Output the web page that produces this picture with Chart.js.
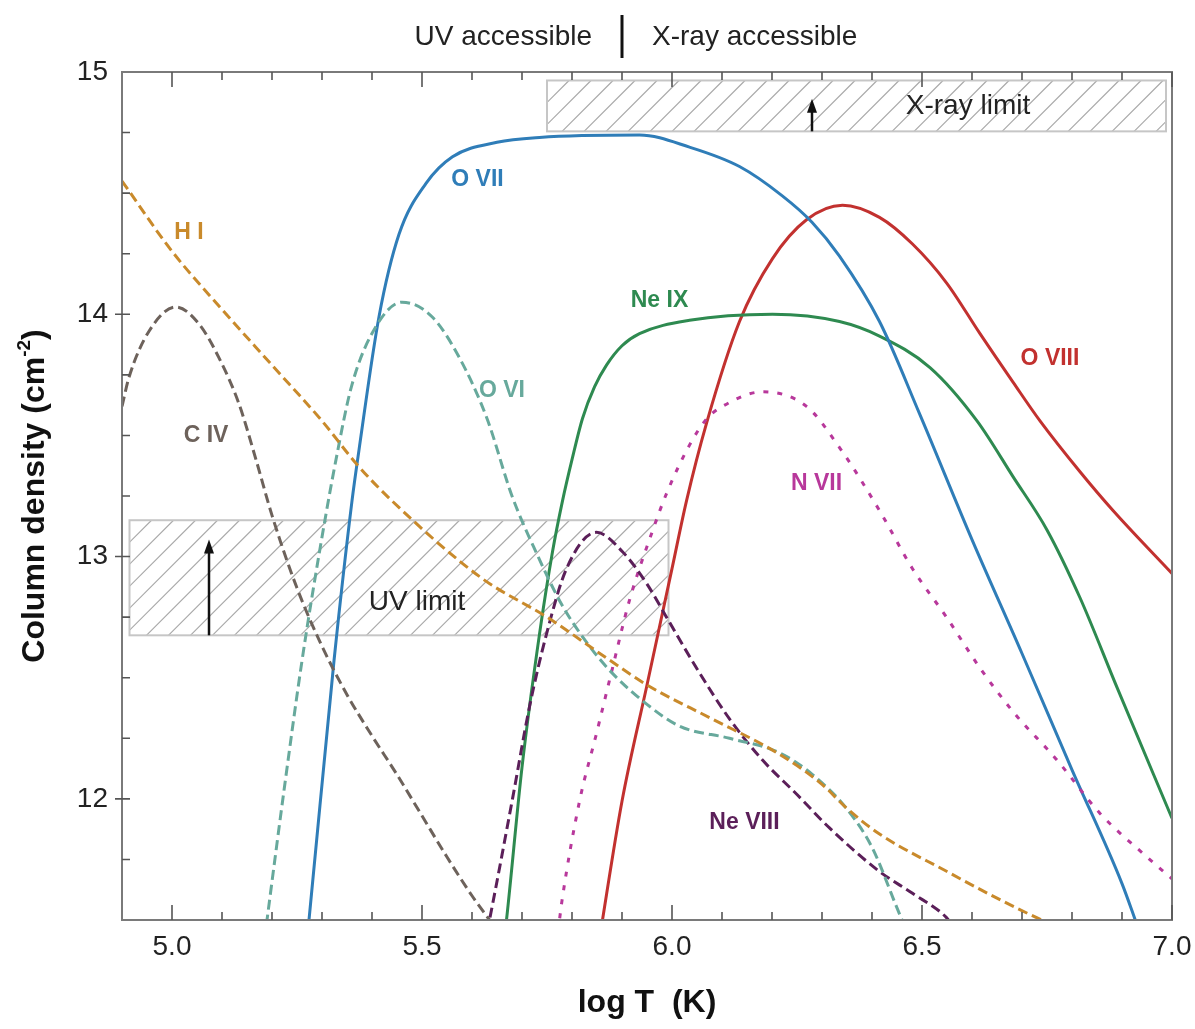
<!DOCTYPE html>
<html>
<head>
<meta charset="utf-8">
<title>Column density vs temperature</title>
<script src="https://cdn.jsdelivr.net/npm/chart.js@4.4.1/dist/chart.umd.min.js"></script>
<style>
  html, body { margin: 0; padding: 0; background: #fff; }
  canvas { display: block; }
</style>
</head>
<body>
<canvas id="chart" width="1195" height="1029"></canvas>
<script>
const FONT = '"Liberation Sans", Arial, Helvetica, sans-serif';

// log T (K) and log column density
const HI_T = [4.90, 5.00, 5.10, 5.20, 5.30, 5.37, 5.44, 5.62, 5.75, 5.87, 5.95, 6.08, 6.21, 6.30, 6.35, 6.415, 6.55, 6.65, 6.74, 6.80];
const HI_N = [14.55, 14.26, 14.02, 13.79, 13.56, 13.38, 13.23, 12.91, 12.75, 12.58, 12.47, 12.33, 12.19, 12.06, 11.96, 11.855, 11.70, 11.59, 11.50, 11.45];

const CIV_T = [4.90, 4.914, 4.954, 5.008, 5.054, 5.094, 5.134, 5.168, 5.20, 5.25, 5.30, 5.35, 5.40, 5.45, 5.50, 5.55, 5.60, 5.635, 5.66];
const CIV_N = [13.62, 13.74, 13.93, 14.03, 13.96, 13.82, 13.63, 13.40, 13.17, 12.87, 12.63, 12.43, 12.26, 12.10, 11.93, 11.76, 11.60, 11.50, 11.43];

const OVI_T = [5.185, 5.19, 5.225, 5.26, 5.295, 5.328, 5.36, 5.408, 5.46, 5.52, 5.575, 5.63, 5.68, 5.73, 5.78, 5.835, 5.88, 5.95, 6.015, 6.115, 6.215, 6.281, 6.349, 6.40, 6.45, 6.47];
const OVI_N = [11.42, 11.50, 12.05, 12.57, 13.02, 13.40, 13.71, 13.95, 14.05, 13.99, 13.82, 13.57, 13.25, 13.01, 12.80, 12.63, 12.52, 12.39, 12.30, 12.25, 12.19, 12.10, 11.96, 11.80, 11.55, 11.45];

const OVII_T = [5.27, 5.274, 5.324, 5.36, 5.374, 5.414, 5.454, 5.508, 5.561, 5.65, 5.735, 5.935, 6.035, 6.135, 6.22, 6.28, 6.335, 6.415, 6.495, 6.60, 6.70, 6.80, 6.90, 6.93];
const OVII_N = [11.42, 11.50, 12.57, 13.23, 13.44, 13.99, 14.33, 14.54, 14.65, 14.71, 14.73, 14.74, 14.69, 14.61, 14.49, 14.38, 14.24, 13.97, 13.59, 13.07, 12.60, 12.12, 11.65, 11.48];

const NEIX_T = [5.662, 5.669, 5.70, 5.735, 5.761, 5.781, 5.80, 5.821, 5.845, 5.869, 5.90, 5.935, 6.035, 6.201, 6.335, 6.415, 6.516, 6.61, 6.682, 6.75, 6.816, 6.89, 7.00];
const NEIX_N = [11.38, 11.50, 12.13, 12.68, 13.02, 13.23, 13.40, 13.57, 13.70, 13.79, 13.87, 13.92, 13.975, 14.00, 13.97, 13.91, 13.78, 13.56, 13.33, 13.11, 12.83, 12.46, 11.92];

const OVIII_T = [5.855, 5.861, 5.90, 5.95, 6.00, 6.029, 6.069, 6.135, 6.201, 6.269, 6.341, 6.415, 6.481, 6.549, 6.616, 6.682, 6.736, 6.816, 6.882, 7.00];
const OVIII_N = [11.42, 11.50, 11.99, 12.47, 12.95, 13.23, 13.55, 13.97, 14.23, 14.39, 14.45, 14.40, 14.29, 14.13, 13.92, 13.72, 13.56, 13.35, 13.19, 12.93];

const NVII_T = [5.772, 5.78, 5.815, 5.849, 5.881, 5.915, 5.96, 5.989, 6.035, 6.07, 6.101, 6.181, 6.269, 6.335, 6.415, 6.481, 6.549, 6.616, 6.682, 6.77, 6.856, 6.95, 7.00];
const NVII_N = [11.45, 11.58, 11.99, 12.27, 12.54, 12.82, 13.10, 13.26, 13.46, 13.57, 13.62, 13.68, 13.62, 13.45, 13.19, 12.95, 12.75, 12.54, 12.36, 12.16, 11.94, 11.76, 11.67];

const NEVIII_T = [5.63, 5.635, 5.681, 5.715, 5.749, 5.789, 5.849, 5.901, 5.949, 5.989, 6.049, 6.115, 6.181, 6.249, 6.315, 6.415, 6.481, 6.549, 6.56];
const NEVIII_N = [11.45, 11.50, 12.00, 12.38, 12.68, 12.95, 13.10, 13.02, 12.89, 12.75, 12.54, 12.33, 12.16, 12.02, 11.88, 11.70, 11.61, 11.51, 11.48];

// axis ticks
const xTickLabels = [5.0, 5.5, 6.0, 6.5, 7.0];
const yTickLabels = [12, 13, 14, 15];

// detection limits (log T range, log N range)
const uvLimitT = [4.915, 5.993];
const uvLimitN = [12.675, 13.15];
const xrayLimitT = [5.75, 6.988];
const xrayLimitN = [14.755, 14.965];

const ions = [
  { name: 'H I',     t: HI_T,     n: HI_N,     color: '#c98a2b', dash: [10, 5], label: [5.034, 14.335] },
  { name: 'C IV',    t: CIV_T,    n: CIV_N,    color: '#6d625b', dash: [10, 5], label: [5.068, 13.50] },
  { name: 'O VI',    t: OVI_T,    n: OVI_N,    color: '#67a99c', dash: [10, 5], label: [5.66, 13.686] },
  { name: 'Ne VIII', t: NEVIII_T, n: NEVIII_N, color: '#5b1f59', dash: [10, 5], label: [6.145, 11.90] },
  { name: 'N VII',   t: NVII_T,   n: NVII_N,   color: '#b8389b', dash: [5, 9],  label: [6.289, 13.302] },
  { name: 'O VII',   t: OVII_T,   n: OVII_N,   color: '#2f7db8', dash: [],      label: [5.611, 14.554] },
  { name: 'Ne IX',   t: NEIX_T,   n: NEIX_N,   color: '#2e8a50', dash: [],      label: [5.975, 14.058] },
  { name: 'O VIII',  t: OVIII_T,  n: OVIII_N,  color: '#c2312f', dash: [],      label: [6.756, 13.818] }
];

function hatchBox(ctx, x, y, tr, nr) {
  const l = x.getPixelForValue(tr[0]), r = x.getPixelForValue(tr[1]);
  const top = y.getPixelForValue(nr[1]), bot = y.getPixelForValue(nr[0]);
  const h = bot - top;
  ctx.save();
  ctx.beginPath();
  ctx.rect(l, top, r - l, h);
  ctx.clip();
  ctx.strokeStyle = '#aaaaaa';
  ctx.lineWidth = 1.2;
  ctx.beginPath();
  for (let sx = l - h; sx < r + h; sx += 22) {
    ctx.moveTo(sx, bot);
    ctx.lineTo(sx + h, top);
  }
  ctx.stroke();
  ctx.restore();
  ctx.strokeStyle = '#c6c6c6';
  ctx.lineWidth = 2;
  ctx.strokeRect(l, top, r - l, h);
}

function arrow(ctx, px, fromPx, tipPx) {
  ctx.save();
  ctx.strokeStyle = '#111';
  ctx.fillStyle = '#111';
  ctx.lineWidth = 2.5;
  ctx.beginPath();
  ctx.moveTo(px, fromPx);
  ctx.lineTo(px, tipPx + 10);
  ctx.stroke();
  ctx.beginPath();
  ctx.moveTo(px, tipPx);
  ctx.lineTo(px - 5, tipPx + 14);
  ctx.lineTo(px + 5, tipPx + 14);
  ctx.closePath();
  ctx.fill();
  ctx.restore();
}

const decorations = {
  id: 'decorations',
  beforeDatasetsDraw(chart) {
    const { ctx, scales: { x, y } } = chart;
    hatchBox(ctx, x, y, uvLimitT, uvLimitN);
    hatchBox(ctx, x, y, xrayLimitT, xrayLimitN);
  },
  afterDraw(chart) {
    const { ctx, chartArea: a, scales: { x, y } } = chart;
    ctx.save();

    // frame
    ctx.strokeStyle = '#7a7a7a';
    ctx.lineWidth = 2;
    ctx.strokeRect(a.left, a.top, a.right - a.left, a.bottom - a.top);

    // inward ticks
    ctx.strokeStyle = '#555';
    ctx.lineWidth = 1.6;
    ctx.beginPath();
    for (let i = 0; i <= 20; i++) {
      const px = x.getPixelForValue(5.0 + i * 0.1);
      const len = i % 5 === 0 ? 15 : 8;
      ctx.moveTo(px, a.bottom); ctx.lineTo(px, a.bottom - len);
      ctx.moveTo(px, a.top); ctx.lineTo(px, a.top + len);
    }
    for (let v = 11.75; v < 15; v += 0.25) {
      const py = y.getPixelForValue(v);
      const major = Math.abs(v - Math.round(v)) < 1e-6;
      ctx.moveTo(major ? a.left - 7 : a.left, py);
      ctx.lineTo(a.left + 8, py);
    }
    ctx.stroke();

    // limit arrows and texts
    arrow(ctx, x.getPixelForValue(5.074), y.getPixelForValue(uvLimitN[0]), y.getPixelForValue(13.07));
    arrow(ctx, x.getPixelForValue(6.28), y.getPixelForValue(xrayLimitN[0]), y.getPixelForValue(14.89));
    ctx.fillStyle = '#222';
    ctx.font = '28px ' + FONT;
    ctx.textAlign = 'center';
    ctx.textBaseline = 'middle';
    ctx.fillText('UV limit', x.getPixelForValue(5.49), y.getPixelForValue(12.81));
    ctx.fillText('X-ray limit', x.getPixelForValue(6.592), y.getPixelForValue(14.86));

    // ion labels
    ctx.font = 'bold 23px ' + FONT;
    for (const s of ions) {
      ctx.fillStyle = s.color;
      ctx.fillText(s.name, x.getPixelForValue(s.label[0]), y.getPixelForValue(s.label[1]));
    }

    // header: UV accessible | X-ray accessible
    const divX = x.getPixelForValue(5.9);
    ctx.fillStyle = '#222';
    ctx.font = '28px ' + FONT;
    ctx.textAlign = 'right';
    ctx.fillText('UV accessible', divX - 30, 37);
    ctx.textAlign = 'left';
    ctx.fillText('X-ray accessible', divX + 30, 37);
    ctx.strokeStyle = '#111';
    ctx.lineWidth = 3;
    ctx.beginPath();
    ctx.moveTo(divX, 15);
    ctx.lineTo(divX, 58);
    ctx.stroke();

    // axis titles
    ctx.fillStyle = '#111';
    ctx.textAlign = 'center';
    ctx.font = 'bold 32px ' + FONT;
    ctx.fillText('log T  (K)', (a.left + a.right) / 2, 1003);

    ctx.translate(33, (a.top + a.bottom) / 2);
    ctx.rotate(-Math.PI / 2);
    const main = 'Column density (cm', sup = '-2', close = ')';
    ctx.font = 'bold 32px ' + FONT;
    const w1 = ctx.measureText(main).width, w3 = ctx.measureText(close).width;
    ctx.font = 'bold 19px ' + FONT;
    const w2 = ctx.measureText(sup).width;
    let sx = -(w1 + w2 + w3) / 2;
    ctx.textAlign = 'left';
    ctx.textBaseline = 'alphabetic';
    ctx.font = 'bold 32px ' + FONT;
    ctx.fillText(main, sx, 11);
    sx += w1;
    ctx.font = 'bold 19px ' + FONT;
    ctx.fillText(sup, sx, -3);
    sx += w2;
    ctx.font = 'bold 32px ' + FONT;
    ctx.fillText(close, sx, 11);

    ctx.restore();
  }
};

const ctx = document.getElementById('chart').getContext('2d');
const chart = new Chart(ctx, {
  type: 'line',
  data: {
    datasets: ions.map(s => ({
      label: s.name,
      data: s.t.map((t, i) => ({ x: t, y: s.n[i] })),
      borderColor: s.color,
      borderWidth: 3,
      borderDash: s.dash,
      fill: false,
      pointRadius: 0,
      cubicInterpolationMode: 'monotone',
      clip: 0
    }))
  },
  options: {
    responsive: false,
    animation: false,
    layout: { padding: { top: 72, right: 23, left: 0, bottom: 0 } },
    plugins: { legend: { display: false }, tooltip: { enabled: false } },
    scales: {
      x: {
        type: 'linear',
        min: 4.9,
        max: 7.0,
        grid: { display: false, drawTicks: false },
        border: { display: false },
        afterBuildTicks: s => { s.ticks = xTickLabels.map(v => ({ value: v })); },
        afterFit: s => { s.height = 109; s.paddingLeft = 0; s.paddingRight = 0; },
        ticks: {
          autoSkip: false,
          maxRotation: 0,
          padding: 10,
          color: '#222',
          font: { family: FONT, size: 28 },
          callback: v => Number(v).toFixed(1)
        }
      },
      y: {
        type: 'linear',
        min: 11.5,
        max: 15,
        grid: { display: false, drawTicks: false },
        border: { display: false },
        afterBuildTicks: s => { s.ticks = yTickLabels.map(v => ({ value: v })); },
        afterFit: s => { s.width = 122; s.paddingTop = 0; s.paddingBottom = 0; },
        ticks: {
          padding: 14,
          color: '#222',
          font: { family: FONT, size: 28 },
          callback: v => String(v)
        }
      }
    }
  },
  plugins: [decorations]
});
</script>
</body>
</html>
